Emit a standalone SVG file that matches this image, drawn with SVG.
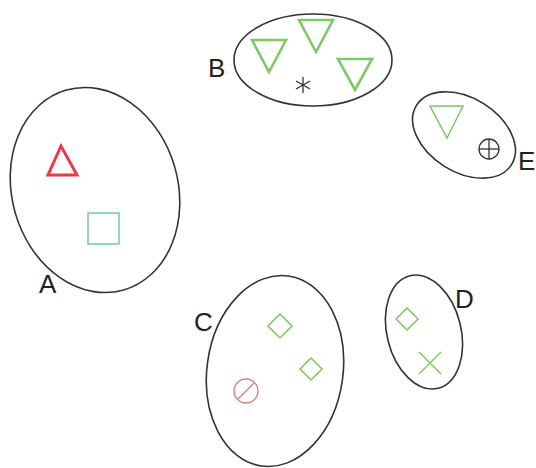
<svg xmlns="http://www.w3.org/2000/svg" width="536" height="468" viewBox="0 0 536 468">
<style>
.set{fill:none;stroke:#333;stroke-width:1.6}
.lbl{font-family:"Liberation Sans",Arial,sans-serif;font-size:26px;fill:#222}
.grn{fill:none;stroke:#80c866;stroke-width:2.6;stroke-linejoin:miter}
.grnt{fill:none;stroke:#7cc860;stroke-width:1.5}
.red{fill:none;stroke:#e8394a;stroke-width:3}
.pink{fill:none;stroke:#e07a7a;stroke-width:1.3}
.teal{fill:none;stroke:#6fc9b4;stroke-width:1.5}
.dark{fill:none;stroke:#333;stroke-width:1.3}
</style>
<rect width="536" height="468" fill="#fff"/>
<g id="A">
<ellipse class="set" cx="95" cy="190" rx="83" ry="104" transform="rotate(-16 95 190)"/>
<polygon class="red" points="61,146 48,175 77,175"/>
<rect class="teal" x="88" y="213" width="31" height="31"/>
<text class="lbl" x="39" y="293">A</text>
</g>
<g id="B">
<ellipse class="set" cx="313" cy="60" rx="79" ry="46"/>
<polygon class="grn" points="252,40 286,40 269,72"/>
<polygon class="grn" points="299,20 333,20 316,52"/>
<polygon class="grn" points="338,59 372,59 355,90"/>
<g class="dark" transform="translate(303 85)">
<line x1="0" y1="-8" x2="0" y2="8"/><line x1="-7" y1="-4" x2="7" y2="4"/><line x1="-7" y1="4" x2="7" y2="-4"/>
</g>
<text class="lbl" x="208" y="77">B</text>
</g>
<g id="E">
<ellipse class="set" cx="464" cy="135" rx="56" ry="37" transform="rotate(32 464 135)"/>
<polygon class="grnt" points="430,106 463,106 447,138"/>
<circle class="dark" cx="489" cy="149" r="10"/>
<line class="dark" x1="479" y1="149" x2="499" y2="149"/>
<line class="dark" x1="489" y1="139" x2="489" y2="159"/>
<text class="lbl" x="518" y="170">E</text>
</g>
<g id="C">
<ellipse class="set" cx="275" cy="371" rx="68" ry="96" transform="rotate(8 275 371)"/>
<polygon class="grnt" points="280,314 292,326 280,338 268,326"/>
<polygon class="grnt" points="311,358 322,369 311,380 300,369"/>
<circle class="pink" cx="246" cy="391" r="12"/>
<line class="pink" x1="238" y1="399" x2="254" y2="383"/>
<text class="lbl" x="194" y="331">C</text>
</g>
<g id="D">
<ellipse class="set" cx="424" cy="332" rx="37" ry="58" transform="rotate(-14 424 332)"/>
<polygon class="grnt" points="407,308 418,319 407,330 396,319"/>
<line class="grnt" x1="419" y1="352" x2="441" y2="374"/>
<line class="grnt" x1="441" y1="352" x2="419" y2="374"/>
<text class="lbl" x="455" y="308">D</text>
</g>
</svg>
